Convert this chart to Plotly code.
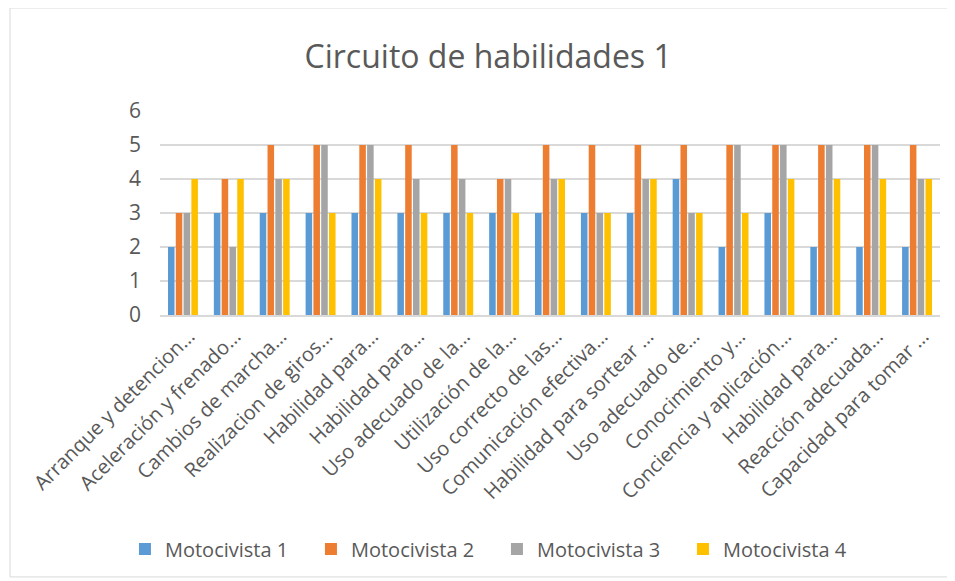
import plotly.graph_objects as go

categories = [
    "Arranque y detencion…", "Aceleración y frenado…", "Cambios de marcha…",
    "Realizacion de giros…", "Habilidad para…", "Habilidad para…",
    "Uso adecuado de la…", "Utilización de la…", "Uso correcto de las…",
    "Comunicación efectiva…", "Habilidad para sortear …", "Uso adecuado de…",
    "Conocimiento y…", "Conciencia y aplicación…", "Habilidad para…",
    "Reacción adecuada…", "Capacidad para tomar …",
]
motocivista_1 = [2, 3, 3, 3, 3, 3, 3, 3, 3, 3, 3, 4, 2, 3, 2, 2, 2]
motocivista_2 = [3, 4, 5, 5, 5, 5, 5, 4, 5, 5, 5, 5, 5, 5, 5, 5, 5]
motocivista_3 = [3, 2, 4, 5, 5, 4, 4, 4, 4, 3, 4, 3, 5, 5, 5, 5, 4]
motocivista_4 = [4, 4, 4, 3, 4, 3, 3, 3, 4, 3, 4, 3, 3, 4, 4, 4, 4]

series = [
    ("Motocivista 1", motocivista_1, "#5B9BD5"),
    ("Motocivista 2", motocivista_2, "#ED7D31"),
    ("Motocivista 3", motocivista_3, "#A5A5A5"),
    ("Motocivista 4", motocivista_4, "#FFC000"),
]

xpos = list(range(len(categories)))

fig = go.Figure()
for name, vals, color in series:
    fig.add_trace(go.Bar(x=xpos, y=vals, name=name, marker_color=color,
                         marker_line_width=0))

# page body has an 8px margin, so the figure is sized/offset to fit the window
fig.update_layout(
    width=947, height=573,
    paper_bgcolor="white", plot_bgcolor="white",
    margin=dict(l=152, r=15, t=103, b=266),
    barmode="group", bargap=0.32, bargroupgap=0.16,
    font=dict(family="Open Sans", color="#595959"),
    title=dict(text="Circuito de habilidades 1", x=0.507, xanchor="center",
               y=0.9145, yanchor="middle",
               font=dict(size=32, color="#595959", family="Open Sans")),
    legend=dict(orientation="h", x=0.432, xanchor="center", y=-1.147, yanchor="middle",
                font=dict(size=20, color="#595959", family="Open Sans"),
                itemwidth=30, traceorder="normal", entrywidth=141),
    xaxis=dict(tickmode="array", tickvals=xpos, ticktext=categories,
               tickangle=-45, tickfont=dict(size=20, color="#595959"),
               range=[-0.5, len(categories) - 0.5], showgrid=False,
               showline=True, linecolor="#D9D9D9", linewidth=1.5, ticks="",
               ticklabelshift=6),
    yaxis=dict(range=[0, 6], dtick=1, showgrid=True, gridcolor="#D9D9D9",
               gridwidth=1.5, zeroline=False, tickfont=dict(size=21, color="#595959"),
               ticks="", ticklabelstandoff=18),
    shapes=[dict(type="rect", xref="paper", yref="paper",
                 x0=-0.1923, x1=1.0103, y0=-1.284, y1=1.505,
                 line=dict(color="#D9D9D9", width=1), layer="below")],
)

fig.write_html("out.html")
